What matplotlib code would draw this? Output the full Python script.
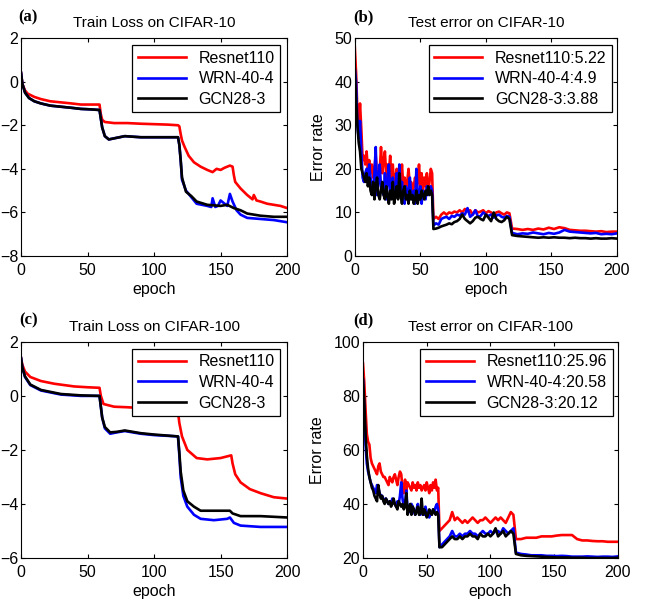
import numpy as np
import matplotlib.pyplot as plt

plt.rcParams['font.family'] = ['Liberation Sans', 'DejaVu Sans']

labels = ["Resnet110", "WRN-40-4", "GCN28-3"]
colors = ["red", "blue", "black"]

# ---- (a) train loss CIFAR-10 ----
a_red_x = [0, 1, 3, 5, 10, 15, 22, 30, 38, 45, 52, 59, 60, 61, 63, 70, 80, 90, 100, 110, 118, 119, 120, 121, 123, 126, 130, 135, 140, 144, 147, 150, 153, 157, 159, 160, 161, 165, 170, 174, 175, 177, 180, 185, 190, 195, 200]
a_red_y = [0.4, -0.1, -0.4, -0.55, -0.7, -0.8, -0.9, -0.95, -1.0, -1.05, -1.05, -1.05, -1.5, -1.75, -1.85, -1.9, -1.9, -1.93, -1.95, -1.97, -2.0, -2.05, -2.4, -2.7, -3.0, -3.4, -3.7, -3.9, -4.05, -4.15, -4.0, -4.05, -3.95, -3.85, -3.9, -4.3, -4.6, -4.9, -5.2, -5.4, -5.2, -5.45, -5.5, -5.6, -5.65, -5.7, -5.8]
a_blue_x = [0, 1, 3, 6, 10, 15, 22, 30, 38, 45, 52, 59, 60, 61, 63, 66, 70, 78, 90, 105, 118, 119, 120, 121, 124, 128, 132, 140, 143, 144, 146, 148, 150, 153, 155, 157, 159, 162, 165, 170, 180, 190, 200]
a_blue_y = [0.4, -0.1, -0.5, -0.75, -0.9, -1.0, -1.1, -1.15, -1.2, -1.25, -1.27, -1.3, -1.7, -2.1, -2.5, -2.65, -2.6, -2.5, -2.55, -2.55, -2.55, -2.9, -3.6, -4.5, -5.0, -5.3, -5.6, -5.7, -5.75, -5.35, -5.75, -5.7, -5.45, -5.6, -5.7, -5.15, -5.5, -5.9, -6.1, -6.25, -6.3, -6.35, -6.45]
a_black_x = [0, 1, 3, 6, 10, 15, 22, 30, 38, 45, 52, 59, 60, 61, 63, 66, 70, 78, 90, 105, 118, 119, 120, 121, 124, 128, 132, 140, 150, 155, 160, 165, 170, 180, 190, 200]
a_black_y = [0.4, -0.1, -0.5, -0.75, -0.9, -1.0, -1.1, -1.15, -1.2, -1.25, -1.27, -1.3, -1.7, -2.1, -2.5, -2.65, -2.6, -2.5, -2.55, -2.55, -2.55, -2.9, -3.6, -4.4, -5.05, -5.25, -5.5, -5.65, -5.7, -5.65, -5.8, -5.9, -6.05, -6.15, -6.2, -6.2]

# ---- (c) train loss CIFAR-100 ----
c_red_x = [0, 1, 3, 7, 15, 25, 40, 50, 59, 60, 62, 70, 80, 90, 100, 110, 118, 119, 121, 125, 132, 140, 150, 158, 159, 161, 165, 172, 180, 190, 200]
c_red_y = [1.4, 1.15, 0.9, 0.7, 0.55, 0.45, 0.35, 0.32, 0.3, 0.0, -0.3, -0.4, -0.42, -0.45, -0.5, -0.55, -0.6, -1.0, -1.5, -2.0, -2.3, -2.35, -2.3, -2.2, -2.5, -2.9, -3.2, -3.45, -3.6, -3.75, -3.8]
c_blue_x = [0, 1, 3, 7, 15, 30, 45, 59, 60, 61, 63, 67, 72, 78, 90, 100, 118, 119, 120, 122, 125, 130, 135, 145, 155, 157, 160, 165, 180, 200]
c_blue_y = [1.4, 1.05, 0.7, 0.4, 0.2, 0.05, 0.0, 0.0, -0.4, -0.8, -1.2, -1.4, -1.35, -1.3, -1.4, -1.45, -1.5, -2.2, -3.0, -3.7, -4.1, -4.4, -4.55, -4.6, -4.55, -4.5, -4.7, -4.8, -4.85, -4.85]
c_black_x = [0, 1, 3, 7, 15, 30, 45, 59, 60, 61, 63, 67, 72, 78, 90, 100, 118, 119, 120, 122, 125, 130, 135, 150, 157, 159, 165, 180, 200]
c_black_y = [1.4, 1.05, 0.72, 0.42, 0.22, 0.07, 0.02, 0.0, -0.4, -0.8, -1.15, -1.35, -1.33, -1.28, -1.38, -1.43, -1.5, -2.1, -2.8, -3.5, -3.9, -4.1, -4.25, -4.25, -4.25, -4.35, -4.45, -4.45, -4.5]

# ---- test error epochs: 0-59 every epoch, 60-118 every 2, 120-200 every 4 ----
test_epochs = list(range(0, 60)) + list(range(60, 120, 2)) + list(range(120, 201, 4))

b_red = [48, 42, 33, 30, 35, 29, 22, 23, 21, 24, 20, 22, 19, 21, 18, 20, 23, 18, 17, 19,
         25, 19, 22, 24, 18, 21, 19, 23, 17, 21, 16, 18, 20, 15, 19, 17, 21, 16, 18, 15,
         17, 20, 16, 17, 15, 16, 18, 15, 17, 21, 16, 19, 15, 18, 16, 19, 15, 17, 20, 19,
         8.5, 9.0, 8.5, 9.5, 10, 9.5, 10, 9.8, 10.2, 10, 10.5, 10, 10.8, 10.3, 10.5,
         9.5, 10.5, 10, 10.2, 10.5, 9.8, 10.3, 10, 9.5, 10, 10.2, 9.8, 9.5, 10, 9.8,
         6.3, 6.2, 6.0, 6.2, 6.0, 6.3, 6.1, 6.5, 6.2, 6.6, 6.4, 6.0, 5.9, 5.8, 5.8, 5.7,
         5.6, 5.7, 5.5, 5.6, 5.6]
b_blue = [43, 40, 30, 27, 31, 24, 18, 17, 19, 20, 17, 21, 18, 16, 15, 19, 25, 14, 17, 21,
          16, 15, 14, 19, 13, 17, 21, 15, 14, 18, 13, 16, 19, 14, 21, 15, 17, 14, 12, 16,
          15, 13, 18, 14, 13, 15, 12, 20, 14, 13, 16, 12, 15, 14, 13, 16, 14, 15, 16, 15,
          7, 7.5, 7.2, 8.5, 8.8, 9, 8.5, 9.2, 9, 9.5, 9.3, 9.8, 9.5, 11, 9,
          9.5, 10.5, 9, 9.2, 10, 9.5, 9.2, 9.5, 8.8, 9.3, 9.5, 9, 8.8, 9.2, 9.0,
          5.3, 5.0, 5.2, 5.1, 5.4, 5.2, 5.0, 5.3, 5.1, 5.4, 6.0, 5.6, 5.5, 5.4, 5.3, 5.2,
          5.3, 5.0, 5.1, 5.0, 5.2]
b_black = [43, 36, 30, 26, 24, 20, 19, 18, 17, 19, 16, 18, 15, 14, 17, 13, 16, 18, 14, 13,
           15, 17, 14, 13, 16, 14, 12, 15, 13, 17, 12, 14, 16, 13, 19, 14, 12, 15, 16, 13,
           14, 12, 15, 13, 14, 12, 13, 15, 12, 14, 13, 15, 14, 13, 15, 14, 16, 14, 15, 14,
           6.2, 6.3, 6.5, 6.8, 7, 7.2, 7.5, 7.3, 7.8, 8, 8.5, 9.5, 8.5, 8, 7.5,
           8, 8.8, 9, 8.5, 8.2, 9.5, 8.8, 8, 10, 8.5, 8, 7.8, 8.2, 9, 8.5,
           4.8, 4.6, 4.5, 4.4, 4.3, 4.2, 4.3, 4.2, 4.3, 4.2, 4.2, 4.1, 4.2, 4.1, 4.1, 4.0,
           4.1, 4.0, 4.0, 4.1, 4.0]

d_red = [92, 85, 75, 66, 63, 62, 57, 55, 54, 53, 52, 51, 54, 55, 52, 51, 50, 50, 49, 48,
         47, 50, 49, 48, 50, 51, 49, 47, 50, 52, 51, 46, 44, 49, 45, 48, 47, 46, 45, 48,
         46, 47, 45, 48, 46, 47, 45, 46, 47, 45, 48, 46, 44, 47, 45, 48, 46, 49, 45, 46,
         30, 31, 32, 33, 34, 37, 34, 35, 34, 33, 34, 33, 34, 35, 34,
         33, 34, 34, 35, 34, 33, 34, 35, 34, 35, 34, 33, 35, 37, 36,
         27, 27, 27.5, 27.5, 27.5, 28, 28, 28, 28.3, 28.5, 28.5, 28.5, 27, 26.5, 26.5, 26.3,
         26.2, 26.2, 26, 26, 26]
d_blue = [86, 75, 62, 55, 52, 50, 48, 47, 46, 45, 44, 47, 46, 44, 43, 43, 42, 41, 42, 41,
          40, 41, 40, 42, 41, 40, 39, 41, 40, 43, 48, 42, 39, 40, 45, 38, 39, 37, 40, 39,
          37, 36, 38, 40, 37, 36, 38, 37, 36, 39, 37, 36, 35, 37, 36, 38, 37, 39, 40, 38,
          24, 25, 26, 27, 28, 30, 28, 28, 29, 28, 29, 29, 30, 29, 29,
          28, 29, 30, 29, 29, 30, 29, 30, 30, 29, 31, 30, 29, 30, 31,
          22, 21.5, 21.3, 21, 21, 21, 20.8, 20.8, 20.7, 20.8, 20.7, 20.5, 20.5, 20.5, 20.6, 20.5,
          20.4, 20.5, 20.5, 20.4, 20.6]
d_black = [86, 78, 66, 58, 53, 50, 48, 46, 45, 43, 42, 41, 47, 44, 42, 43, 41, 40, 42, 41,
           40, 41, 39, 40, 42, 40, 39, 38, 41, 40, 39, 40, 38, 39, 44, 36, 38, 40, 36, 39,
           38, 36, 37, 39, 36, 37, 42, 36, 38, 37, 35, 36, 38, 37, 36, 38, 37, 36, 37, 36,
           24, 24, 25, 26, 27, 28, 27, 27, 28, 27, 28, 28, 29, 28, 28,
           27, 29, 28, 28, 29, 28, 29, 31, 28, 29, 30, 28, 29, 30, 29,
           21.5, 21, 20.8, 20.7, 20.6, 20.5, 20.4, 20.3, 20.2, 20.2, 20.2, 20.1, 20.1, 20.1, 20, 20,
           20, 20, 20, 20, 20.1]

b_labels = ["Resnet110:5.22", "WRN-40-4:4.9", "GCN28-3:3.88"]
d_labels = ["Resnet110:25.96", "WRN-40-4:20.58", "GCN28-3:20.12"]

fig = plt.figure(figsize=(6.57, 6.14), dpi=100)
ax_a = fig.add_axes([0.032, 0.583, 0.405, 0.355])
ax_b = fig.add_axes([0.540, 0.583, 0.399, 0.355])
ax_c = fig.add_axes([0.032, 0.0912, 0.405, 0.352])
ax_d = fig.add_axes([0.5525, 0.0912, 0.388, 0.352])


def style(ax, title, ylim, yticks, legend_labels, lx):
    ax.set_xlim(0, 200)
    ax.set_ylim(*ylim)
    ax.set_xticks([0, 50, 100, 150, 200])
    ax.set_yticks(yticks)
    ax.tick_params(direction='in', top=True, right=True, length=3, labelsize=11.5, pad=2)
    ax.tick_params(axis='x', pad=5)
    ax.set_xlabel("epoch", fontsize=11.5, labelpad=3)
    ax.set_title(title, fontsize=11, pad=8)
    leg = ax.legend(legend_labels, loc='upper right', bbox_to_anchor=(lx, 0.968),
                    fontsize=11.5, fancybox=False, framealpha=1, edgecolor='black',
                    handlelength=3.0, labelspacing=0.35, borderpad=0.35, borderaxespad=0)
    leg.get_frame().set_linewidth(0.9)


ax_a.plot(a_red_x, a_red_y, color=colors[0], lw=1.9)
ax_a.plot(a_blue_x, a_blue_y, color=colors[1], lw=1.9)
ax_a.plot(a_black_x, a_black_y, color=colors[2], lw=1.9)
style(ax_a, "Train Loss on CIFAR-10", (-8, 2), [-8, -6, -4, -2, 0, 2], labels, 0.974)

for y, c in zip([b_red, b_blue, b_black], colors):
    ax_b.plot(test_epochs, y, color=c, lw=1.9)
style(ax_b, "Test error on CIFAR-10", (0, 50), [0, 10, 20, 30, 40, 50], b_labels, 0.981)
ax_b.set_ylabel("Error rate", fontsize=11.5, labelpad=6)

ax_c.plot(c_red_x, c_red_y, color=colors[0], lw=1.9)
ax_c.plot(c_blue_x, c_blue_y, color=colors[1], lw=1.9)
ax_c.plot(c_black_x, c_black_y, color=colors[2], lw=1.9)
style(ax_c, "Train Loss on CIFAR-100", (-6, 2), [-6, -4, -2, 0, 2], labels, 0.974)

for y, c in zip([d_red, d_blue, d_black], colors):
    ax_d.plot(test_epochs, y, color=c, lw=1.9)
style(ax_d, "Test error on CIFAR-100", (20, 100), [20, 40, 60, 80, 100], d_labels, 0.98)
ax_d.set_ylabel("Error rate", fontsize=11.5, labelpad=6)

for txt, x, y in [("(a)", 0.028, 0.972), ("(b)", 0.537, 0.972),
                  ("(c)", 0.030, 0.478), ("(d)", 0.537, 0.478)]:
    fig.text(x, y, txt, fontsize=12, fontweight='bold',
             family=['Liberation Serif', 'DejaVu Serif'], va='center')

fig.savefig("out.png", dpi=100)
